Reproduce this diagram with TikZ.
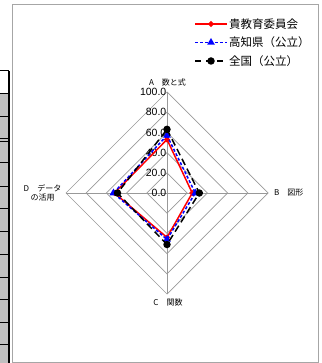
\documentclass[tikz,border=0pt]{standalone}
\usepackage{fontspec}
\setmainfont{Liberation Sans}
\newfontfamily\jpfont{Noto Sans CJK JP}
\usetikzlibrary{shapes.geometric}

\begin{document}
\begin{tikzpicture}[x=1pt, y=-1pt,
      gridline/.style={draw=black!40, line width=0.7pt},
      ticklabel/.style={font=\fontsize{10.5}{11}\selectfont, anchor=east, inner sep=0.5pt},
      axislabel/.style={font=\jpfont\fontsize{8}{9.5}\selectfont, inner sep=0pt, align=center},
      legtext/.style={font=\jpfont\fontsize{11.5}{12}\selectfont, anchor=west, inner sep=0pt},
      kyoiku/.style={draw=red, line width=1.5pt},
      kochi/.style={draw=blue, line width=1.5pt, dash pattern=on 3pt off 2pt},
      zenkoku/.style={draw=black, line width=1.5pt, dash pattern=on 7pt off 4pt},
      redmark/.style={diamond, fill=red, inner sep=0pt, minimum size=6.5pt},
      bluemark/.style={regular polygon, regular polygon sides=3, fill=blue, inner sep=0pt, minimum size=9pt},
      blackmark/.style={circle, fill=black, inner sep=0pt, minimum size=7.5pt},]
  %.
  \useasboundingbox (0,0) rectangle (321,363);
  % table edge on the left
  \fill[black!25] (0,94) rectangle (8.5,363);
  \draw[black, line width=1.2pt] (9,71) -- (9,363);
  \foreach \y in {71,94,117,139,142,163,186,208,231,254,277,299,322,344}
    \draw[black, line width=1pt] (0,\y) -- (9,\y);
  % chart frame
  \draw[draw=black!35, line width=1pt] (12.5,4.5) rectangle (318,362);
  %.
  \begin{scope}[shift={(167,193)}, x=1.01pt, y=1.01pt]
    \coordinate (O) at (0,0);
    \foreach \r in {20,40,60,80,100}
      \draw[gridline] (0,\r) -- (\r,0) -- (0,-\r) -- (-\r,0) -- cycle;
    \draw[gridline] (0,100) -- (0,-100);
    \draw[gridline] (-100,0) -- (100,0);
    \foreach \v in {0,20,40,60,80,100}
      \node[ticklabel] (t\v) at (0,\v) {\v.0};
    % values: A, B, C, D
    \foreach \s/\a/\b/\c/\d in {r/53/25/44/52, u/57/28/46/53, k/63/32/51/49} {
      \coordinate (\s A) at (0,\a);
      \coordinate (\s B) at (\b,0);
      \coordinate (\s C) at (0,-\c);
      \coordinate (\s D) at (-\d,0);
    }
    \draw[kyoiku] (rA) -- (rB) -- (rC) -- (rD) -- cycle;
    \foreach \p in {A,B,C,D}
      \node[redmark] (rm\p) at (r\p) {};
    \draw[kochi] (uA) -- (uB) -- (uC) -- (uD) -- cycle;
    \foreach \p in {A,B,C,D}
      \node[bluemark] (um\p) at (u\p) {};
    \draw[zenkoku] (kA) -- (kB) -- (kC) -- (kD) -- cycle;
    \foreach \p in {A,B,C,D}
      \node[blackmark] (km\p) at (k\p) {};
  \end{scope}
  %.
  \node[axislabel] (axA) at (167.5,82.5) {A　数と式};
  \node[axislabel, anchor=west] (axB) at (274,193) {B　図形};
  \node[axislabel] (axC) at (168,302) {C　関数};
  \node[axislabel] (axD) at (42.5,193) {D　データ\\の活用};
  %.
  \node[legtext] (leg1) at (229,24) {貴教育委員会};
  \node[legtext] (leg2) at (229,42.5) {高知県（公立）};
  \node[legtext] (leg3) at (229,61) {全国（公立）};
  \draw[kyoiku] ([xshift=-34pt]leg1.west) -- ([xshift=-2pt]leg1.west);
  \node[redmark] (lm1) at ([xshift=-18pt]leg1.west) {};
  \draw[kochi] ([xshift=-34pt]leg2.west) -- ([xshift=-2pt]leg2.west);
  \node[bluemark] (lm2) at ([xshift=-18pt]leg2.west) {};
  \draw[zenkoku, dash pattern=on 6pt off 5pt] ([xshift=-34pt]leg3.west) -- ([xshift=-2pt]leg3.west);
  \node[blackmark] (lm3) at ([xshift=-18pt]leg3.west) {};
  %.
\end{tikzpicture}
\end{document}
